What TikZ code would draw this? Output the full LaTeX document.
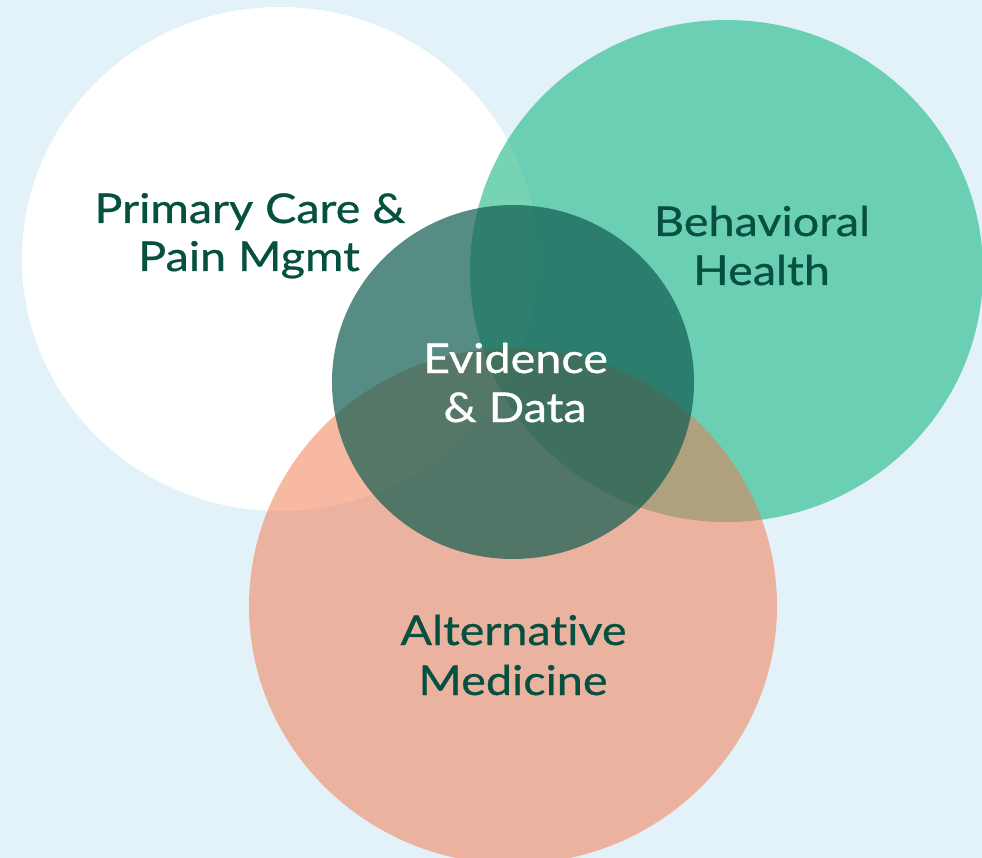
\documentclass[tikz,border=0pt]{standalone}
\usepackage{fontspec}
\setmainfont{Lato}[FakeStretch=1.14,FakeBold=0.7,Ligatures={NoCommon,NoRare}]
\definecolor{bgblue}{RGB}{227,242,248}
\definecolor{tealc}{RGB}{27,184,133}
\definecolor{salmonc}{RGB}{243,116,72}
\definecolor{darkc}{RGB}{16,92,80}
\definecolor{txtgreen}{RGB}{6,80,64}
\begin{document}
\begin{tikzpicture}[x=1pt,y=-1pt,
  lbl/.style={anchor=base,inner sep=0pt,text=txtgreen,font=\fontsize{41}{49}\selectfont},
  wlbl/.style={lbl,text=white}]
\fill[bgblue] (0,0) rectangle (982,858);
\useasboundingbox (0,0) rectangle (982,858);
\clip (0,0) rectangle (982,858);
\fill[white] (280,259) ellipse [x radius=258pt, y radius=252pt];
\fill[tealc,fill opacity=0.6] (726.5,271) ellipse [x radius=256.5pt, y radius=251pt];
\fill[salmonc,fill opacity=0.5] (513,606) ellipse [x radius=264pt, y radius=258pt];
\fill[darkc,fill opacity=0.7] (513,382) ellipse [x radius=181pt, y radius=177pt];
\node[lbl] (pc1) at (250,223) {Primary Care \&};
\node[lbl] (pc2) at (249,271) {Pain Mgmt};
\node[lbl] (bh1) at (762,236) {Behavioral};
\node[lbl] (bh2) at (761.5,285) {Health};
\node[wlbl] (ev1) at (515.5,373) {Evidence};
\node[wlbl] (ev2) at (515,422) {\& Data};
\node[lbl] (am1) at (513.5,645) {Alternat\kern0pt ive};
\node[lbl] (am2) at (513,695) {Medicine};
\end{tikzpicture}
\end{document}
